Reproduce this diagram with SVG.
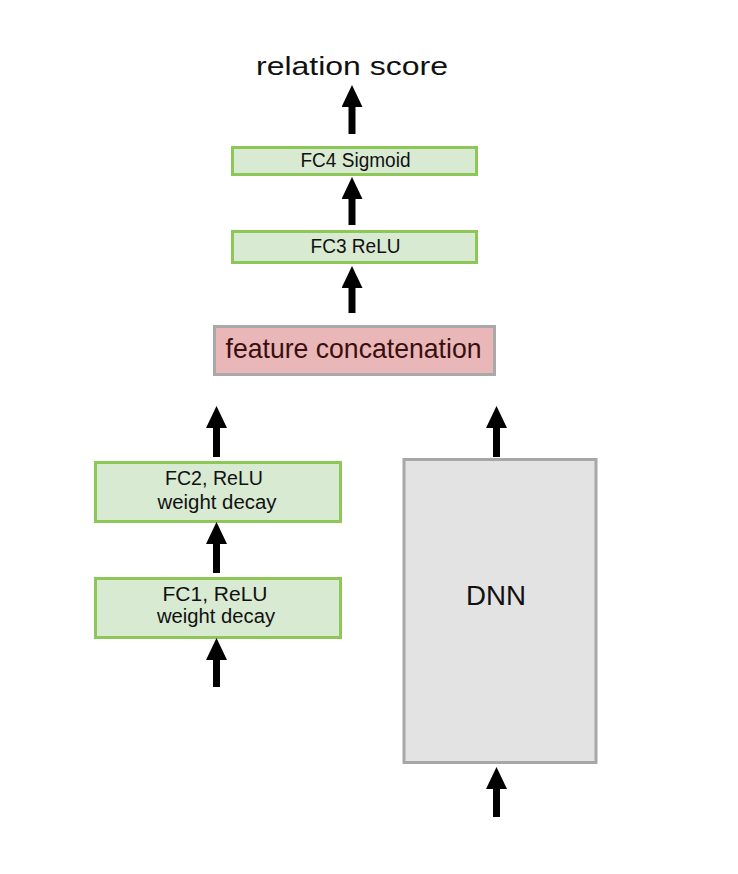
<svg xmlns="http://www.w3.org/2000/svg" width="738" height="874" viewBox="0 0 738 874">
  <style>
    .fc { fill: #d9ead3; stroke: #8dc757; stroke-width: 3; }
    .concat { fill: #e9b7b7; stroke: #a9a9a9; stroke-width: 3; }
    .dnn { fill: #e3e3e3; stroke: #a9a6a6; stroke-width: 3; }
    text { font-family: "Liberation Sans", Arial, sans-serif; fill: #111; text-anchor: middle; }
    .small { font-size: 19.5px; }
    .arrow { stroke: #000; stroke-width: 7; fill: none; marker-end: url(#head); }
  </style>
  <defs>
    <marker id="head" viewBox="0 0 22 21" refX="1" refY="10.5" markerWidth="22" markerHeight="21" markerUnits="userSpaceOnUse" orient="auto">
      <path d="M0,0 L22,10.5 L0,21 Z" fill="#000"/>
    </marker>
  </defs>

  <rect width="738" height="874" fill="#fff"/>

  <text id="output-label" x="352" y="75" font-size="26" textLength="192" lengthAdjust="spacingAndGlyphs">relation score</text>

  <g id="fc4">
    <rect class="fc" x="232.5" y="147.5" width="244" height="27"/>
    <text class="small" x="355.5" y="166.5" textLength="110" lengthAdjust="spacingAndGlyphs">FC4 Sigmoid</text>
  </g>

  <g id="fc3">
    <rect class="fc" x="232.5" y="231.5" width="244" height="31"/>
    <text class="small" x="355.5" y="253" textLength="90" lengthAdjust="spacingAndGlyphs">FC3 ReLU</text>
  </g>

  <g id="concat">
    <rect class="concat" x="214.5" y="326.5" width="280" height="48"/>
    <text x="353.5" y="358" font-size="28" style="fill:#3a0f0f" textLength="256" lengthAdjust="spacingAndGlyphs">feature concatenation</text>
  </g>

  <g id="fc2">
    <rect class="fc" x="95.5" y="462.5" width="245" height="59"/>
    <text class="small" x="214" y="484.5" textLength="98" lengthAdjust="spacingAndGlyphs">FC2, ReLU</text>
    <text class="small" x="217" y="509" textLength="119" lengthAdjust="spacingAndGlyphs">weight decay</text>
  </g>

  <g id="fc1">
    <rect class="fc" x="95.5" y="578.5" width="245" height="59"/>
    <text class="small" x="215" y="600.5" textLength="105" lengthAdjust="spacingAndGlyphs">FC1, ReLU</text>
    <text class="small" x="216" y="623" textLength="118" lengthAdjust="spacingAndGlyphs">weight decay</text>
  </g>

  <g id="dnn">
    <rect class="dnn" x="404" y="459.5" width="192" height="303"/>
    <text x="496" y="605" font-size="28" textLength="60" lengthAdjust="spacingAndGlyphs">DNN</text>
  </g>

  <g id="connectors">
    <line class="arrow" x1="352" y1="134" x2="352" y2="106"/>
    <line class="arrow" x1="352" y1="225" x2="352" y2="198"/>
    <line class="arrow" x1="352" y1="313" x2="352" y2="287"/>
    <line class="arrow" x1="216.5" y1="457" x2="216.5" y2="427"/>
    <line class="arrow" x1="216.5" y1="573" x2="216.5" y2="543"/>
    <line class="arrow" x1="216.5" y1="687" x2="216.5" y2="659"/>
    <line class="arrow" x1="496.5" y1="457" x2="496.5" y2="427"/>
    <line class="arrow" x1="496.5" y1="817" x2="496.5" y2="788"/>
  </g>
</svg>
